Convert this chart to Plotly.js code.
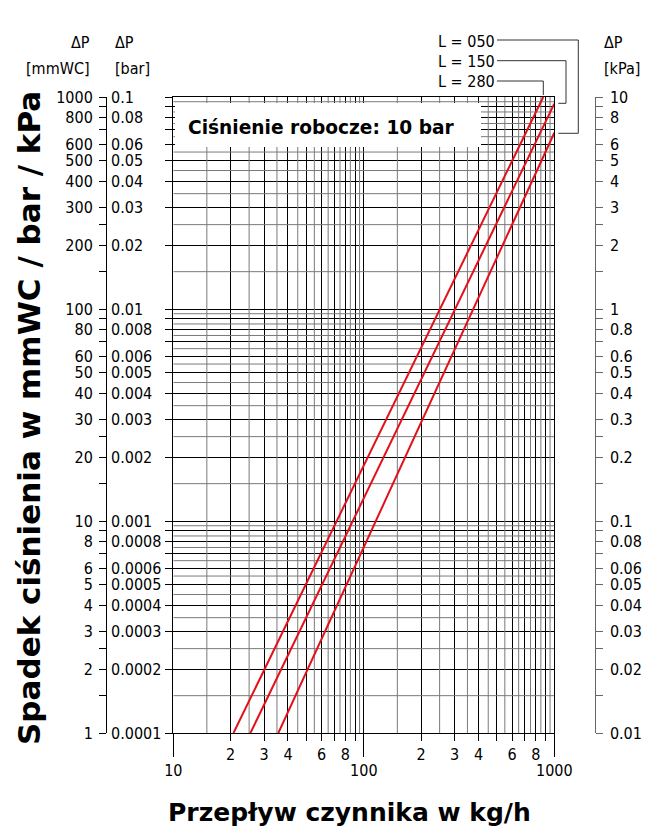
<!DOCTYPE html>
<html><head><meta charset="utf-8">
<script src="https://cdn.plot.ly/plotly-3.0.1.min.js"></script>
<style>html,body{margin:0;padding:0;background:#fff}#chart{width:653px;height:836px}</style>
</head><body><div id="chart"></div>
<script>
// ---- data ----
const seriesNames = ["L = 050", "L = 150", "L = 280"];
const flowL050 = [35.6, 115.6, 376, 1000];
const dpL050   = [1, 10, 100, 678];
const flowL150 = [25.4, 87.5, 302, 1000];
const dpL150   = [1, 10, 100, 930];
const flowL280 = [20.7, 72, 251, 875];
const dpL280   = [1, 10, 100, 1000];

const decades = [1, 10, 100];
const gridMantissas = [1, 2, 3, 4, 5, 6, 7, 8, 9];
const halfMantissas = [1.5, 2.5, 3.5, 4.5, 5.5, 6.5, 7.5, 8.5, 9.5];
const sideTickMantissas = [1, 1.5, 2, 2.5, 3, 4, 5, 6, 7, 8, 9];
const mmwcLabelVals = [1,2,3,4,5,6,8,10,20,30,40,50,60,80,100,200,300,400,500,600,800,1000];
const barLabels = ["0.0001","0.0002","0.0003","0.0004","0.0005","0.0006","0.0008","0.001","0.002","0.003","0.004","0.005","0.006","0.008","0.01","0.02","0.03","0.04","0.05","0.06","0.08","0.1"];
const kpaLabels = ["0.01","0.02","0.03","0.04","0.05","0.06","0.08","0.1","0.2","0.3","0.4","0.5","0.6","0.8","1","2","3","4","5","6","8","10"];
const flowLabelMantissas = [2, 3, 4, 6, 8];
const flowDecades = [10, 100, 1000];
const flowDecadeLabels = ["10", "100", "1000"];
const boxText = "Ciśnienie robocze: 10 bar";
const xTitle = "Przepływ czynnika w kg/h";
const yTitle = "Spadek ciśnienia w mmWC / bar / kPa";

// ---- helpers ----
const F = "'DejaVu Sans Condensed', 'Liberation Sans Narrow', 'DejaVu Sans', sans-serif";
const FB = "'DejaVu Sans', sans-serif";
function expand(m) { const o = []; decades.forEach(d => m.forEach(v => o.push(v * d))); return o; }
const gridVals = expand(gridMantissas).concat([1000]);
const halfVals = expand(halfMantissas);
const sideTicks = expand(sideTickMantissas).concat([1000]);
const xGridVals = gridVals.map(v => v * 10);
const xHalfVals = halfVals.map(v => v * 10);
const xTickText = xGridVals.map(v => {
  const m = v / Math.pow(10, Math.floor(Math.log10(v) + 1e-9));
  return flowLabelMantissas.some(k => Math.abs(k - m) < 1e-9) ? String(Math.round(m)) : "";
});
const mmwcText = sideTicks.map(v => mmwcLabelVals.indexOf(v) >= 0 ? String(v) : "");
const kpaText = sideTicks.map(v => { const i = mmwcLabelVals.indexOf(v); return i >= 0 ? kpaLabels[i] : ""; });

// half-step gray grid as a line trace
const hx = [], hy = [];
xHalfVals.forEach(v => { hx.push(v, v, null); hy.push(1, 1000, null); });
halfVals.forEach(v => { hx.push(10, 1000, null); hy.push(v, v, null); });

const RED = '#e3101b';
const traces = [
  {x: hx, y: hy, mode: 'lines', line: {color: '#7a7a7a', width: 1}, hoverinfo: 'skip', showlegend: false},
  {x: flowL280, y: dpL280, name: seriesNames[2], mode: 'lines', line: {color: RED, width: 2}, showlegend: false},
  {x: flowL150, y: dpL150, name: seriesNames[1], mode: 'lines', line: {color: RED, width: 2}, showlegend: false},
  {x: flowL050, y: dpL050, name: seriesNames[0], mode: 'lines', line: {color: RED, width: 2}, showlegend: false},
  {x: [null], y: [null], xaxis: 'x2', yaxis: 'y', showlegend: false, hoverinfo: 'skip'},
  {x: [null], y: [null], xaxis: 'x', yaxis: 'y2', showlegend: false, hoverinfo: 'skip'},
  {x: [null], y: [null], xaxis: 'x', yaxis: 'y3', showlegend: false, hoverinfo: 'skip'},
  {x: [null], y: [null], xaxis: 'x', yaxis: 'y4', showlegend: false, hoverinfo: 'skip'}
];

// pixel -> paper helpers (layout only)
const L = 60, R = 13, T = 97, B = 103, W = 653, H = 836;
const pw = W - L - R, ph = H - T - B;
const px = v => (v - L) / pw;
const py = v => 1 - (v - T) / ph;

const xDom = [px(173.3), px(554.3)];
const tickFont = {family: F, size: 16, color: '#000'};

const layout = {
  width: W, height: H,
  margin: {l: L, r: R, t: T, b: B},
  paper_bgcolor: '#fff', plot_bgcolor: '#fff',
  font: {family: F, size: 16, color: '#000'},
  showlegend: false,
  xaxis: {
    domain: xDom, type: 'log', range: [1, 3], anchor: 'y',
    tickmode: 'array', tickvals: xGridVals, ticktext: xTickText,
    ticks: 'outside', ticklen: 7, tickcolor: '#000', tickwidth: 1,
    showgrid: true, gridcolor: '#000', gridwidth: 1, zeroline: false,
    showline: true, mirror: true, linecolor: '#000', linewidth: 1,
    tickfont: tickFont
  },
  xaxis2: {
    overlaying: 'x', anchor: 'y', side: 'bottom', type: 'log', range: [1, 3],
    tickmode: 'array', tickvals: flowDecades, ticktext: flowDecadeLabels,
    ticks: 'outside', ticklen: 23, tickcolor: '#000', showgrid: false, zeroline: false, showline: false,
    tickfont: tickFont
  },
  yaxis: {
    domain: [0, 1], type: 'log', range: [0, 3], anchor: 'x',
    tickmode: 'array', tickvals: gridVals, showticklabels: false,
    ticks: 'outside', ticklen: 7, tickcolor: '#000',
    showgrid: true, gridcolor: '#000', gridwidth: 1, zeroline: false,
    showline: true, mirror: true, linecolor: '#000'
  },
  yaxis2: {
    overlaying: 'y', anchor: 'free', position: px(106), side: 'left', type: 'log', range: [0, 3],
    tickmode: 'array', tickvals: sideTicks, ticktext: mmwcText,
    ticks: 'outside', ticklen: 7, tickcolor: '#000',
    showline: true, linecolor: '#000', showgrid: false, zeroline: false,
    ticklabelstandoff: 3,
    tickfont: tickFont
  },
  yaxis3: {
    overlaying: 'y', anchor: 'free', position: px(106), side: 'right', type: 'log', range: [0, 3],
    tickmode: 'array', tickvals: mmwcLabelVals, ticktext: barLabels,
    ticks: '', showline: false, showgrid: false, zeroline: false,
    ticklabelstandoff: 4,
    tickfont: tickFont
  },
  yaxis4: {
    overlaying: 'y', anchor: 'free', position: px(594.7), side: 'right', type: 'log', range: [0, 3],
    tickmode: 'array', tickvals: sideTicks, ticktext: kpaText,
    ticks: 'outside', ticklen: 7, tickcolor: '#666',
    showline: true, linecolor: '#666', showgrid: false, zeroline: false,
    ticklabelstandoff: 4,
    tickfont: tickFont
  },
  shapes: [
    {type: 'rect', xref: 'paper', yref: 'paper', x0: px(175), x1: px(481), y0: py(147), y1: py(103),
     fillcolor: '#fff', line: {width: 0}, layer: 'above'},
    {type: 'path', xref: 'paper', yref: 'paper', line: {color: '#333', width: 1},
     path: `M ${px(497)} ${py(40)} L ${px(578.3)} ${py(40)} L ${px(578.3)} ${py(133.3)} L ${px(558.3)} ${py(133.3)}`},
    {type: 'path', xref: 'paper', yref: 'paper', line: {color: '#333', width: 1},
     path: `M ${px(497)} ${py(60.7)} L ${px(566)} ${py(60.7)} L ${px(566)} ${py(103.3)} L ${px(558.3)} ${py(103.3)}`},
    {type: 'path', xref: 'paper', yref: 'paper', line: {color: '#333', width: 1},
     path: `M ${px(497)} ${py(81)} L ${px(543.3)} ${py(81)} L ${px(543.3)} ${py(95)}`}
  ],
  annotations: [
    {text: boxText, xref: 'paper', yref: 'paper', x: px(186), y: py(127), xanchor: 'left', yanchor: 'middle',
     showarrow: false, font: {family: FB, size: 18.6, weight: 'bold', color: '#000'}},
    {text: seriesNames[0], xref: 'paper', yref: 'paper', x: px(497), y: py(41), xanchor: 'right', yanchor: 'middle', showarrow: false, font: tickFont},
    {text: seriesNames[1], xref: 'paper', yref: 'paper', x: px(497), y: py(61), xanchor: 'right', yanchor: 'middle', showarrow: false, font: tickFont},
    {text: seriesNames[2], xref: 'paper', yref: 'paper', x: px(497), y: py(81), xanchor: 'right', yanchor: 'middle', showarrow: false, font: tickFont},
    {text: 'ΔP', xref: 'paper', yref: 'paper', x: px(92), y: py(43), xanchor: 'right', yanchor: 'middle', showarrow: false, font: tickFont},
    {text: '[mmWC]', xref: 'paper', yref: 'paper', x: px(92), y: py(68), xanchor: 'right', yanchor: 'middle', showarrow: false, font: tickFont},
    {text: 'ΔP', xref: 'paper', yref: 'paper', x: px(113), y: py(43), xanchor: 'left', yanchor: 'middle', showarrow: false, font: tickFont},
    {text: '[bar]', xref: 'paper', yref: 'paper', x: px(113), y: py(68), xanchor: 'left', yanchor: 'middle', showarrow: false, font: tickFont},
    {text: 'ΔP', xref: 'paper', yref: 'paper', x: px(602), y: py(43), xanchor: 'left', yanchor: 'middle', showarrow: false, font: tickFont},
    {text: '[kPa]', xref: 'paper', yref: 'paper', x: px(602), y: py(68), xanchor: 'left', yanchor: 'middle', showarrow: false, font: tickFont},
    {text: xTitle, xref: 'paper', yref: 'paper', x: px(349), y: py(812), xanchor: 'center', yanchor: 'middle', showarrow: false,
     font: {family: FB, size: 25, weight: 'bold', color: '#000'}},
    {text: yTitle, xref: 'paper', yref: 'paper', x: px(29), y: py(418), xanchor: 'center', yanchor: 'middle', textangle: -90, showarrow: false,
     font: {family: FB, size: 31, weight: 'bold', color: '#000'}}
  ]
};

Plotly.newPlot('chart', traces, layout, {staticPlot: true, displayModeBar: false});
</script>
</body></html>
